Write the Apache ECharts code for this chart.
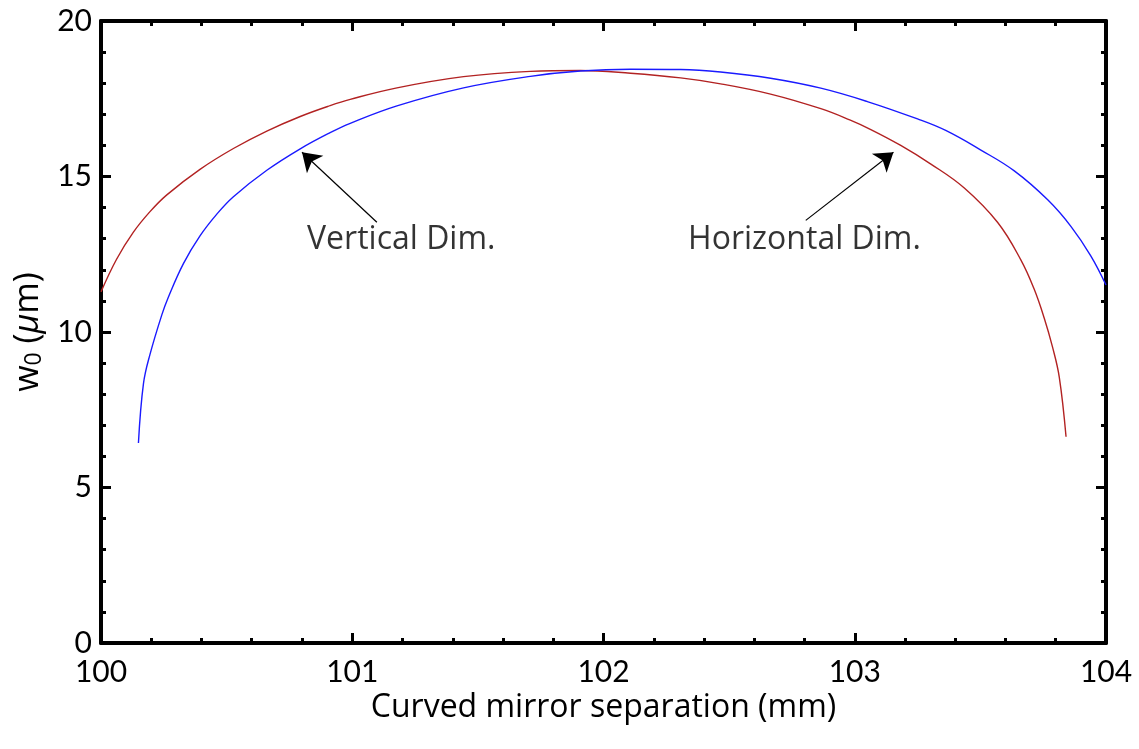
<!DOCTYPE html>
<html>
<head>
<meta charset="utf-8">
<script src="https://cdn.jsdelivr.net/npm/echarts@6/dist/echarts.min.js"></script>
<style>html,body{margin:0;padding:0;background:#fff}#c{width:1139px;height:749px}</style>
</head>
<body>
<div id="c"></div>
<script>
// Horizontal dimension (red)
var horizX = [100, 100.062, 100.129, 100.195, 100.262, 100.394, 100.527, 100.66, 100.793, 100.912, 100.992, 101.178, 101.443, 101.709, 101.908, 102.108, 102.307, 102.466, 102.665, 102.865, 102.98, 103.064, 103.183, 103.303, 103.436, 103.569, 103.661, 103.714, 103.754, 103.787, 103.814, 103.841];
var horizY = [11.29, 12.34, 13.21, 13.87, 14.41, 15.23, 15.90, 16.46, 16.93, 17.28, 17.48, 17.85, 18.21, 18.38, 18.41, 18.32, 18.17, 17.98, 17.65, 17.18, 16.82, 16.51, 16.00, 15.40, 14.63, 13.52, 12.32, 11.38, 10.45, 9.52, 8.55, 6.63];
// Vertical dimension (blue)
var vertX = [100.149, 100.169, 100.195, 100.242, 100.268, 100.328, 100.394, 100.461, 100.527, 100.66, 100.793, 100.912, 100.992, 101.178, 101.443, 101.709, 101.908, 102.108, 102.307, 102.466, 102.665, 102.865, 103.05, 103.25, 103.362, 103.502, 103.635, 103.768, 103.861, 103.94, 104.0];
var vertY = [6.43, 8.34, 9.28, 10.55, 11.12, 12.20, 13.09, 13.79, 14.35, 15.20, 15.89, 16.41, 16.71, 17.27, 17.85, 18.22, 18.39, 18.45, 18.44, 18.36, 18.16, 17.84, 17.41, 16.85, 16.48, 15.85, 15.18, 14.25, 13.39, 12.44, 11.51];
// Annotations
var annoText = ['Vertical Dim.', 'Horizontal Dim.'];
var annoTextPos = [[101.195, 12.95], [102.80, 12.95]];
var arrowFrom = [[101.098, 13.53], [102.805, 13.59]];
var arrowTo = [[100.80, 15.78], [103.154, 15.78]];
// Axis ranges / ticks
var xMin = 100, xMax = 104, xStep = 1;
var yMin = 0, yMax = 20, yStep = 5;
var xName = 'Curved mirror separation (mm)';

var FONT = 'Lato';
var TFONT = 'Open Sans';
function zip(a, b) { return a.map(function (v, i) { return [v, b[i]]; }); }

var chart = echarts.init(document.getElementById('c'), null, {renderer: 'canvas'});
var axisCommon = {
  axisLine: {show: true, onZero: false, lineStyle: {color: '#000', width: 4}},
  axisTick: {show: true, inside: true, length: 10, lineStyle: {color: '#000', width: 3}},
  minorTick: {show: true, splitNumber: 5, length: 5, lineStyle: {color: '#000', width: 3}},
  splitLine: {show: false}
};
var option = {
  backgroundColor: '#fff',
  animation: false,
  grid: {left: 101, right: 33, top: 21, bottom: 106},
  xAxis: [
    Object.assign({
      type: 'value', min: xMin, max: xMax, interval: xStep, position: 'bottom',
      name: xName, nameLocation: 'middle', nameGap: 33,
      nameTextStyle: {fontFamily: TFONT, fontSize: 32, color: '#000'},
      axisLabel: {fontFamily: FONT, fontSize: 30, color: '#000', margin: 14}
    }, axisCommon),
    Object.assign({
      type: 'value', min: xMin, max: xMax, interval: xStep, position: 'top',
      axisLabel: {show: false}
    }, axisCommon)
  ],
  yAxis: [
    Object.assign({
      type: 'value', min: yMin, max: yMax, interval: yStep, position: 'left',
      name: 'w{sub|0} ({i|μ}m)', nameLocation: 'middle', nameGap: 50,
      nameTextStyle: {fontFamily: TFONT, fontSize: 34, color: '#000',
        rich: {
          sub: {fontFamily: TFONT, fontSize: 23, color: '#000', verticalAlign: 'bottom', padding: [13, 0, 0, 0]},
          i: {fontFamily: TFONT, fontSize: 34, color: '#000', fontStyle: 'italic'}
        }},
      axisLabel: {fontFamily: FONT, fontSize: 30, color: '#000', margin: 9}
    }, axisCommon),
    Object.assign({
      type: 'value', min: yMin, max: yMax, interval: yStep, position: 'right',
      axisLabel: {show: false}
    }, axisCommon)
  ],
  series: [
    {
      name: 'Horizontal Dim.', type: 'line', xAxisIndex: 0, yAxisIndex: 0,
      data: zip(horizX, horizY), showSymbol: false, smooth: 0.4,
      lineStyle: {color: '#b22222', width: 1.4}, z: 3
    },
    {
      name: 'Vertical Dim.', type: 'line', xAxisIndex: 0, yAxisIndex: 0,
      data: zip(vertX, vertY), showSymbol: false, smooth: 0.4,
      lineStyle: {color: '#1a1aff', width: 1.4}, z: 3,
      markLine: {
        silent: true, animation: false,
        symbol: ['none', 'arrow'], symbolSize: 18,
        lineStyle: {color: '#000', width: 1.2, type: 'solid'},
        itemStyle: {color: '#000'},
        label: {show: false},
        data: arrowFrom.map(function (f, i) {
          return [{coord: f, symbol: 'none'}, {coord: arrowTo[i], symbol: 'arrow', symbolSize: 18}];
        })
      }
    },
    {
      name: 'labels', type: 'scatter', xAxisIndex: 0, yAxisIndex: 0,
      data: annoTextPos.map(function (p, i) { return {value: p, name: annoText[i]}; }),
      symbolSize: 0, silent: true,
      label: {show: true, position: 'inside', formatter: '{b}', fontFamily: TFONT, fontSize: 32, color: '#000'}
    }
  ]
};
chart.setOption(option);
</script>
</body>
</html>
